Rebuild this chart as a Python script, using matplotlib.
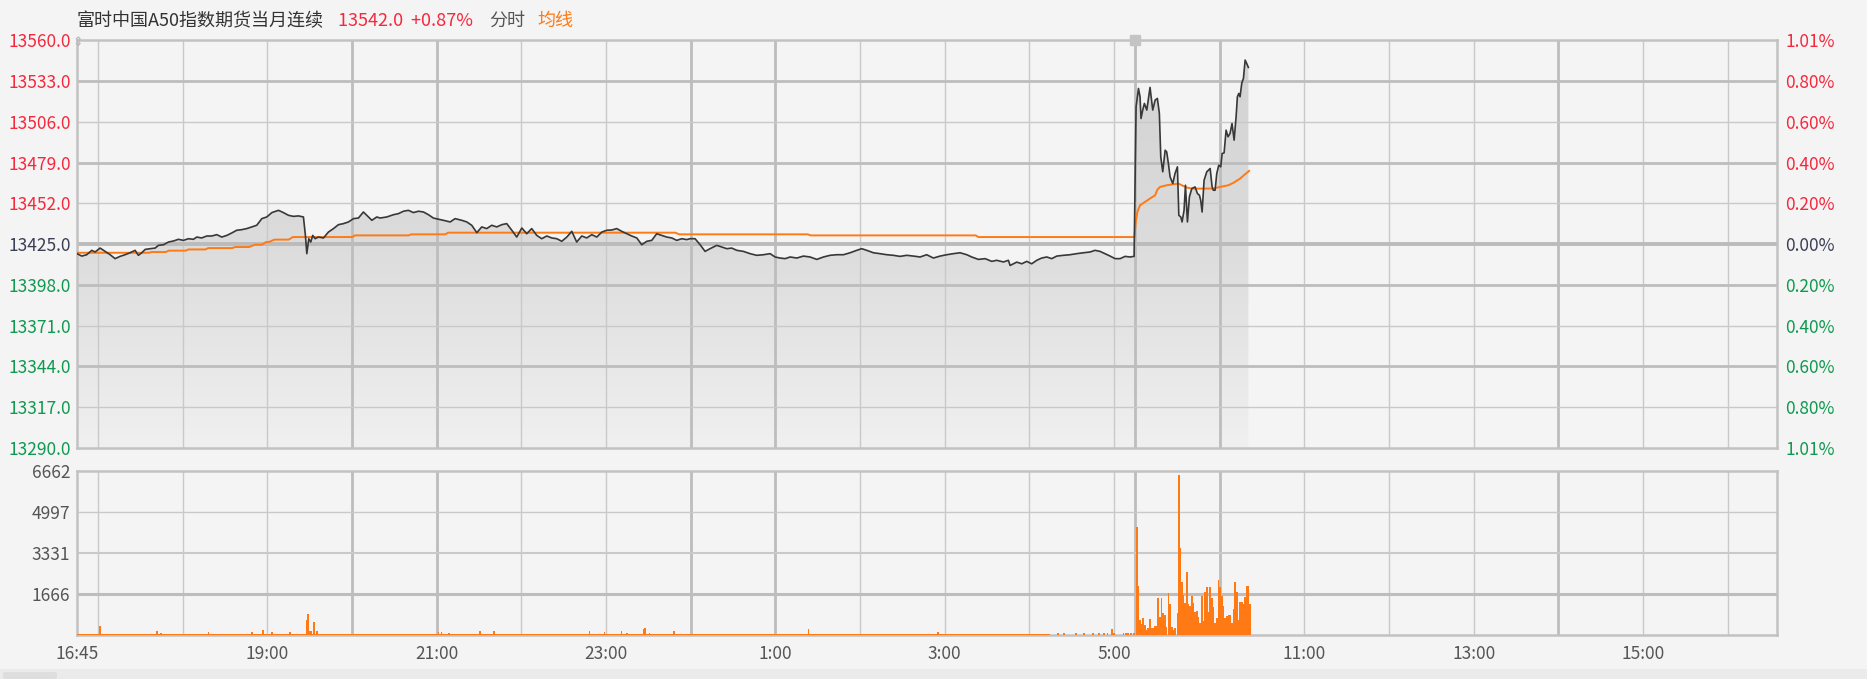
import numpy as np
import matplotlib
matplotlib.use("Agg")
import matplotlib.pyplot as plt
from matplotlib.colors import LinearSegmentedColormap
from matplotlib.patches import Rectangle, FancyBboxPatch

plt.rcParams['font.family'] = ['Noto Sans CJK SC', 'DejaVu Sans']

# ---------------- data ----------------
instrument_name = "富时中国A50指数期货当月连续"
last_quote = "13542.0  +0.87%"
mode_label = "分时"
avg_label = "均线"
prev_close = 13425.0

# minutes since the 16:45 open (night 16:45-5:15 -> 0..750, day 9:00-16:35 -> 750..1205)
price_minutes = [
    0, 3.4, 6.9, 10.5, 12.8, 16.4, 19.9, 23.5, 27.0, 30.5, 34.1, 37.6, 41.2, 43.5, 45.9, 48.3,
    51.8, 55.4, 57.7, 61.3, 64.8, 68.4, 71.9, 75.4, 79.0, 82.5, 84.9, 88.4, 92.0, 95.5, 99.1,
    102.6, 106.2, 109.7, 113.2, 116.8, 120.3, 123.9, 127.4, 131.0, 134.5, 138.1, 142.8, 146.3,
    149.9, 153.4, 157.0, 160.5, 161.9, 162.9, 164.3, 165.7, 167.1, 168.8, 171.1, 174.7, 178.2,
    181.8, 185.3, 188.9, 192.4, 196.0, 199.5, 203.0, 205.4, 209.0, 212.5,
    214.8, 219.6, 224.3, 227.8, 231.4, 234.9, 238.5, 242.0, 245.6, 249.1, 252.6, 256.2, 259.7,
    264.5, 268.0, 272.7, 276.3, 279.8, 283.4, 286.9, 290.4, 294.0, 297.5, 301.1, 304.6, 308.2,
    311.7, 315.3, 318.8, 322.3, 325.9, 329.4, 333.0, 336.5, 340.1, 343.6, 347.2, 350.7, 354.2,
    357.8, 361.3, 364.9, 368.4, 372.0, 375.5, 379.1, 382.6, 386.1, 389.7, 393.2, 396.8, 400.3,
    403.9, 407.4, 410.9, 414.5, 418.0, 421.6, 425.1, 428.7, 432.2,
    434.6, 438.1, 441.7, 445.2, 448.7, 453.5, 457.0, 460.6, 464.1, 467.7, 472.4, 477.1, 481.8,
    486.6, 491.3, 494.8, 498.4, 501.9, 505.5, 510.2, 514.9, 519.6, 524.4, 529.1, 533.8, 538.5,
    543.3, 548.0, 552.7, 556.2, 559.8, 564.5, 569.2, 574.0, 578.7, 583.4, 588.1, 592.9, 597.6,
    602.3, 607.0, 611.8, 616.5, 621.2, 625.9, 630.7, 634.2, 638.9, 643.7, 648.4, 651.9, 656.7, 660.2,
    661.4, 666.1, 669.7, 673.2, 676.7, 680.3, 683.8, 687.4, 690.9, 694.5, 699.2, 703.9, 708.6,
    713.4, 718.1, 721.6, 725.2, 728.7, 732.3, 735.8, 739.4, 742.9, 746.4, 749.3,
    750.7, 752.4, 753.5, 754.2, 755.4, 756.6, 758.3, 760.6, 762.5, 764.2, 765.8, 767.2, 768.2,
    769.6, 771.3, 772.4, 773.6, 774.8, 776.7, 778.3, 780.0, 781.0, 782.4, 783.3, 784.7, 785.7,
    787.1, 788.5, 790.2, 792.5, 794.2, 795.6, 796.5, 797.5, 798.9, 800.8, 803.2, 804.6, 805.5,
    806.7, 807.9, 809.3, 810.7, 811.7, 813.1, 814.5, 815.9, 817.3, 818.7, 820.2, 821.6, 822.5,
    823.5, 824.4, 825.6, 826.8, 828.0, 829.1, 830.3,
]
price_values = [
    13418.7, 13417.1, 13418.0, 13420.9, 13419.8, 13422.4, 13420.2, 13418.0, 13415.4, 13416.9,
    13418.0, 13419.3, 13420.9, 13417.6, 13419.3, 13421.5, 13422.0, 13422.4, 13424.2, 13424.6,
    13426.4, 13427.1, 13428.2, 13427.5, 13428.6, 13428.2, 13429.7, 13429.1, 13430.4, 13430.4,
    13431.3, 13429.7, 13430.8, 13432.4, 13434.2, 13434.6, 13435.3, 13436.4, 13437.5, 13441.9,
    13443.0, 13445.9, 13447.4, 13445.9, 13444.1, 13443.4, 13443.7, 13443.0, 13430.8, 13418.7,
    13428.6, 13426.4, 13430.8, 13428.6, 13429.7, 13429.1, 13433.0, 13435.3, 13437.9, 13438.6,
    13439.7, 13441.9, 13442.3, 13446.3, 13444.1, 13440.8, 13443.0,
    13442.3, 13443.0, 13444.5, 13445.2, 13446.8, 13447.4, 13445.9, 13446.8, 13446.3, 13444.5,
    13442.3, 13441.5, 13440.8, 13439.7, 13441.9, 13440.8, 13439.7, 13437.5, 13432.6, 13436.4,
    13435.3, 13437.5, 13436.4, 13437.9, 13438.6, 13434.2, 13429.7, 13435.7, 13431.9, 13435.3,
    13430.8, 13428.6, 13430.4, 13429.1, 13428.6, 13426.9, 13429.7, 13433.5, 13426.4, 13430.4,
    13429.1, 13431.3, 13429.7, 13433.0, 13434.2, 13434.4, 13435.3, 13433.5, 13431.9, 13430.4,
    13429.1, 13424.6, 13426.9, 13427.5, 13431.9, 13430.8, 13429.7, 13429.1, 13427.5, 13428.6,
    13428.0,
    13428.6, 13428.6, 13424.6, 13420.2, 13422.0, 13424.2, 13423.1, 13422.0, 13422.4, 13420.9,
    13420.2, 13418.7, 13417.6, 13418.0, 13418.7, 13416.5, 13415.8, 13415.4, 13416.5, 13415.8,
    13417.1, 13416.5, 13414.9, 13416.5, 13417.6, 13418.0, 13418.0, 13419.3, 13420.9, 13422.0,
    13420.9, 13419.3, 13418.7, 13418.0, 13417.6, 13416.9, 13417.6, 13417.1, 13416.5, 13418.0,
    13415.8, 13417.1, 13418.0, 13418.7, 13419.3, 13418.0, 13416.5, 13414.9, 13415.4, 13413.6,
    13414.3, 13413.2, 13414.3,
    13410.9, 13413.1, 13412.0, 13413.6, 13412.0, 13414.3, 13415.8, 13416.5, 13415.4, 13417.1,
    13417.6, 13418.0, 13418.7, 13419.3, 13419.8, 13420.9, 13420.2, 13418.7, 13417.1, 13415.4,
    13415.4, 13416.9, 13416.5, 13416.9,
    13516.0, 13528.1, 13522.6, 13508.2, 13513.8, 13518.2, 13513.8, 13528.8, 13513.8, 13520.4,
    13521.5, 13511.6, 13482.8, 13472.9, 13487.2, 13486.1, 13478.4, 13469.6, 13465.1, 13471.8,
    13476.2, 13444.1, 13443.0, 13439.7, 13447.4, 13464.0, 13439.7, 13456.3, 13461.8, 13462.9,
    13458.5, 13457.4, 13454.1, 13446.3, 13467.3, 13472.9, 13475.1, 13462.9, 13460.7, 13460.7,
    13471.8, 13477.3, 13476.2, 13485.0, 13485.5, 13500.5, 13496.1, 13498.3, 13504.9, 13493.9,
    13509.4, 13522.6, 13524.8, 13522.6, 13531.5, 13534.8, 13546.9, 13544.7, 13542.0,
]

avg_minutes = [
    0, 51, 53, 63, 65, 77, 79, 91, 93, 110, 112, 122, 126, 131, 134, 136, 140, 150, 153, 195, 197,
    235, 237, 261, 263, 424, 427, 518, 520, 637, 639, 749.5,
    750.5, 751.6, 753.5, 757.1, 760.6, 764.2, 765.8, 767.7, 772.4, 776.0, 780.7, 783.1, 786.6,
    790.2, 796.1, 805.5, 810.2, 816.1, 819.7, 824.4, 828.0, 830.8,
]
avg_values = [
    13419.3, 13419.3, 13419.8, 13419.8, 13420.7, 13420.7, 13421.5, 13421.5, 13422.4, 13422.4,
    13423.1, 13423.1, 13424.6, 13424.6, 13426.4, 13426.4, 13428.0, 13428.0, 13429.7, 13429.7,
    13430.8, 13430.8, 13431.5, 13431.5, 13432.6, 13432.6, 13431.5, 13431.5, 13430.8, 13430.8,
    13429.7, 13429.7,
    13439.7, 13446.3, 13450.8, 13453.0, 13455.2, 13457.4, 13461.1, 13462.9, 13464.0, 13464.5,
    13465.1, 13464.0, 13462.5, 13461.8, 13461.8, 13461.8, 13462.9, 13464.0, 13465.6, 13468.4,
    13471.3, 13473.5,
]

# light, continuous overnight trading (thin orange base row)
quiet_first_minute = 0
quiet_last_minute = 689
quiet_volume = 55

vol_minutes = [
    15.7, 56.3, 58.8, 92.6, 123.6, 131.2, 137.6, 150.5, 162.2, 163.2, 164.5, 165.4, 167.3, 169.5,
    255.6, 257.8, 262.9, 285.0, 294.9, 362.6, 373.3, 385.3, 389.4, 401.2, 402.1, 405.3, 422.4,
    517.9, 609.8, 694.8, 699.2, 707.5, 713.0, 719.6, 724.0, 727.5, 729.9, 733.0, 734.6, 741.2,
    742.9, 744.6, 746.4, 748.8,
    750.7, 751.9, 753.1, 754.2, 755.2, 756.4, 757.6, 758.7, 759.9, 761.1, 762.3, 763.5, 764.6,
    765.8, 767.0, 768.2, 769.4, 770.5, 771.7, 773.1, 774.3, 775.5, 776.7, 777.9, 779.5, 780.7,
    781.4, 782.6, 783.8, 785.0, 786.1, 787.3, 788.5, 789.7, 790.9, 792.0, 793.2, 794.4, 795.6,
    796.8, 797.9, 799.1, 800.3, 801.5, 802.7, 803.9, 805.0, 806.2, 807.4, 808.6, 809.8, 811.0,
    812.1, 813.3, 814.5, 815.7, 816.9, 818.0, 819.2, 820.4, 821.6, 822.8, 824.0, 825.1, 826.3,
    827.5, 828.7, 829.9, 831.0,
]
vol_values = [
    378, 165, 100, 110, 140, 190, 120, 120, 609, 853, 150, 150, 541, 160,
    110, 110, 100, 150, 165, 150, 110, 165, 100, 244, 284, 100, 180,
    244, 130, 68, 68, 68, 68, 68, 68, 68, 68, 244, 68, 68,
    68, 68, 68, 68,
    4400, 2004, 609, 433, 677, 406, 203, 271, 636, 298, 298, 379, 379,
    1516, 745, 1516, 907, 812, 339, 1693, 1259, 339, 203, 271, 907, 6499,
    3520, 2166, 1625, 1313, 2546, 1259, 1178, 1584, 1313, 948, 975, 745, 474,
    1584, 569, 1733, 1963, 948, 1963, 1516, 1124, 501, 677, 2234, 1936, 1584,
    1178, 677, 772, 812, 812, 474, 1043, 2166, 1760, 609, 1354, 1354, 1259,
    1557, 1990, 1990, 1259,
]

price_ticks = [13290.0, 13317.0, 13344.0, 13371.0, 13398.0, 13425.0,
               13452.0, 13479.0, 13506.0, 13533.0, 13560.0]
volume_max = 6662
volume_ticks = [1666, 3331, 4997, 6662]
time_labels = ["16:45", "19:00", "21:00", "23:00", "1:00", "3:00", "5:00",
               "11:00", "13:00", "15:00"]
grid_times = ["17:00", "18:00", "19:00", "20:00", "21:00", "22:00", "23:00", "0:00",
              "1:00", "2:00", "3:00", "4:00", "5:00", "9:00", "10:00", "11:00",
              "12:00", "13:00", "14:00", "15:00", "16:00"]
strong_grid_times = ["20:00", "21:00", "0:00", "1:00", "9:00", "10:00", "14:00"]
session_minutes = 1205


def clock_to_index(label):
    h, m = map(int, label.split(":"))
    t = h * 60 + m
    if 9 * 60 <= t < 16 * 60 + 45:
        return 750 + t - 9 * 60
    return (t - (16 * 60 + 45)) % 1440


# ---------------- style ----------------
BG = "#f4f4f4"
GRID = "#c9c9c9"
GRID_STRONG = "#bdbdbd"
RED = "#f5283d"
GREEN = "#0f9950"
ORANGE = "#ff7a14"
LINE = "#383838"

W, H = 1867, 679
fig = plt.figure(figsize=(W / 100, H / 100), dpi=100, facecolor=BG)


def fx(px):
    return px / W


def fy(py):
    return 1 - py / H


ax = fig.add_axes([fx(77), fy(448), fx(1777) - fx(77), fy(40.3) - fy(448)], facecolor=BG)
axv = fig.add_axes([fx(77), fy(635), fx(1777) - fx(77), fy(471) - fy(635)], facecolor=BG)

ymin, ymax = price_ticks[0], price_ticks[-1]

# gradient fill under price line
poly = ax.fill_between(price_minutes, price_values, ymin, facecolor="none", edgecolor="none", zorder=1)
cmap = LinearSegmentedColormap.from_list("g", ["#d2d2d2", "#dcdcdc", "#f0f0f0"])
grad = np.linspace(0, 1, 256).reshape(-1, 1)
im = ax.imshow(grad, extent=[0, session_minutes, ymin, ymax], aspect="auto", cmap=cmap,
               origin="upper", zorder=1, interpolation="bilinear")
im.set_clip_path(poly.get_paths()[0], transform=ax.transData)

# grids
for a in (ax, axv):
    for t in grid_times:
        strong = t in strong_grid_times
        a.axvline(clock_to_index(t), color=GRID_STRONG if strong else GRID,
                  lw=2.0 if strong else 1.0, zorder=2)
    for s in a.spines.values():
        s.set_color("#c2c2c2")
        s.set_linewidth(1.8)

thick_levels = [13533.0, 13479.0, 13398.0, 13344.0]
for v in price_ticks[1:-1]:
    if v == prev_close:
        ax.axhline(v, color="#bbbbbb", lw=2.8, zorder=2)
    elif v in thick_levels:
        ax.axhline(v, color=GRID_STRONG, lw=2.0, zorder=2)
    else:
        ax.axhline(v, color=GRID, lw=1.0, zorder=2)

for v in volume_ticks[:-1]:
    axv.axhline(v, color=GRID_STRONG if v == volume_ticks[0] else GRID,
                lw=2.2 if v == volume_ticks[0] else (1.5 if v == volume_ticks[1] else 1.0), zorder=2)

# lines
ax.plot(avg_minutes, avg_values, color=ORANGE, lw=1.4, zorder=4)
ax.plot(price_minutes, price_values, color=LINE, lw=1.2, zorder=5)

ax.set_xlim(0, session_minutes)
ax.set_ylim(ymin, ymax)

# left price labels
ax.set_yticks(price_ticks)
ax.set_yticklabels([f"{v:.1f}" for v in price_ticks])
ax.tick_params(axis="y", length=0, pad=4.5, labelsize=12.5)
for lab, v in zip(ax.get_yticklabels(), price_ticks):
    lab.set_color(RED if v > prev_close else (GREEN if v < prev_close else "#3b3f55"))
ax.set_xticks([])

# right percent labels
axr = ax.twinx()
axr.set_ylim(ymin, ymax)
axr.set_yticks(price_ticks)
axr.set_yticklabels([f"{abs(v - prev_close) / prev_close * 100:.2f}%" for v in price_ticks])
axr.tick_params(axis="y", length=0, pad=6, labelsize=12.5)
for lab, v in zip(axr.get_yticklabels(), price_ticks):
    lab.set_color(RED if v > prev_close else (GREEN if v < prev_close else "#3b3f55"))
for s in axr.spines.values():
    s.set_visible(False)

# volume bars
quiet_x = np.arange(quiet_first_minute, quiet_last_minute + 1)
axv.bar(quiet_x, [quiet_volume] * len(quiet_x), width=1.0, align="edge",
        color=ORANGE, linewidth=0, zorder=3)
axv.bar(vol_minutes, vol_values, width=1.15, align="edge", color=ORANGE,
        linewidth=0, zorder=3)
axv.set_xlim(0, session_minutes)
axv.set_ylim(0, volume_max)
axv.set_yticks(volume_ticks)
axv.set_yticklabels([str(v) for v in volume_ticks])
axv.tick_params(axis="y", length=0, pad=5, labelsize=12.5, labelcolor="#555555")
axv.set_xticks([clock_to_index(t) for t in time_labels])
axv.set_xticklabels(time_labels)
axv.tick_params(axis="x", length=0, pad=7, labelsize=12.5, labelcolor="#555555")

# header
fig.text(fx(77), fy(21), instrument_name, color="#333333", fontsize=13, va="center", ha="left")
fig.text(fx(338), fy(21), last_quote, color=RED, fontsize=13, va="center", ha="left")
fig.text(fx(489), fy(21), mode_label, color="#555555", fontsize=13, va="center", ha="left")
fig.text(fx(537), fy(21), avg_label, color=ORANGE, fontsize=13, va="center", ha="left")

# small markers (drag handle / session break)
fig.text(fx(78), fy(42), "⇕", color="#b5b5b5", fontsize=9, va="center", ha="center",
         family="DejaVu Sans")
ax.plot([clock_to_index("9:00")], [ymax], marker="s", markersize=7, color="#c4c4c4",
        clip_on=False, zorder=6)

# bottom scroll strip
fig.patches.append(Rectangle((0, 0), 1, 10 / H, transform=fig.transFigure,
                             facecolor="#ebebeb", edgecolor="none"))
fig.patches.append(FancyBboxPatch((fx(3), 0), fx(54), 7 / H, boxstyle="round,pad=0,rounding_size=0.002",
                                  transform=fig.transFigure, facecolor="#dedede", edgecolor="none"))

fig.savefig("out.png", dpi=100, facecolor=BG)
